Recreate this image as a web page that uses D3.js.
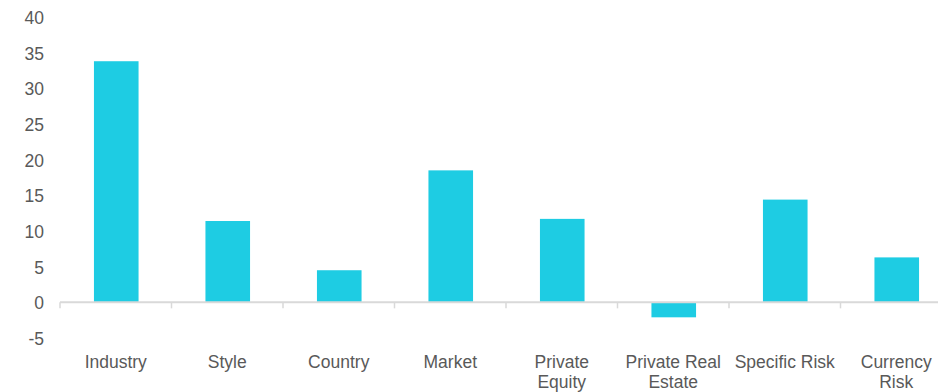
<!DOCTYPE html>
<html>
<head>
<meta charset="utf-8">
<script src="https://cdn.jsdelivr.net/npm/d3@7"></script>
<style>
  body { margin: 0; background: #fff; }
  .canvas text { font-family: "Liberation Sans", Arial, sans-serif; fill: #595959; }
</style>
</head>
<body>
<div class="canvas"></div>
<script>
const categories = ['Industry', 'Style', 'Country', 'Market', 'Private Equity', 'Private Real Estate', 'Specific Risk', 'Currency Risk'];
const labelLines = [['Industry'], ['Style'], ['Country'], ['Market'], ['Private', 'Equity'], ['Private Real', 'Estate'], ['Specific Risk'], ['Currency', 'Risk']];
const values = [33.8, 11.4, 4.5, 18.5, 11.7, -2.1, 14.4, 6.3];
const yTicks = [-5, 0, 5, 10, 15, 20, 25, 30, 35, 40];

const dims = { width: 938, height: 392 };
const plot = { left: 60, right: 952, top: 17, bottom: 338 };

const svg = d3.select('.canvas')
    .append('svg')
    .attr('width', dims.width)
    .attr('height', dims.height);

const x = d3.scaleBand()
    .domain(categories)
    .range([plot.left, plot.right])
    .padding(0);

const y = d3.scaleLinear()
    .domain([-5, 40])
    .range([plot.bottom, plot.top]);

// y tick labels, no axis line
svg.append('g')
    .selectAll('text')
    .data(yTicks)
    .enter()
    .append('text')
        .attr('x', 44)
        .attr('y', d => y(d) + 1)
        .attr('dy', '0.35em')
        .attr('text-anchor', 'end')
        .attr('font-size', 17.5)
        .text(d => d);

// bars
const bw = x.bandwidth() * 0.4;
svg.append('g')
    .selectAll('rect')
    .data(values)
    .enter()
    .append('rect')
        .attr('x', (d, i) => x(categories[i]) + (x.bandwidth() - bw) / 2 + 0.5)
        .attr('y', d => y(Math.max(0, d)))
        .attr('width', bw)
        .attr('height', d => Math.abs(y(d) - y(0)))
        .attr('fill', '#1ecce3');

// zero axis line with ticks at band edges
const axisG = svg.append('g');
axisG.append('line')
    .attr('x1', plot.left).attr('x2', dims.width)
    .attr('y1', y(0)).attr('y2', y(0))
    .attr('stroke', '#d9d9d9')
    .attr('stroke-width', 2);
axisG.selectAll('.tk')
    .data(categories)
    .enter()
    .append('line')
        .attr('class', 'tk')
        .attr('x1', d => x(d)).attr('x2', d => x(d))
        .attr('y1', y(0)).attr('y2', y(0) + 6)
        .attr('stroke', '#d9d9d9')
        .attr('stroke-width', 1.5);

// category labels
const labels = svg.append('g')
    .selectAll('text')
    .data(categories)
    .enter()
    .append('text')
        .attr('text-anchor', 'middle')
        .attr('font-size', 17.5)
        .attr('transform', d => `translate(${x(d) + x.bandwidth() / 2}, 368)`);

labels.selectAll('tspan')
    .data((d, i) => labelLines[i])
    .enter()
    .append('tspan')
        .attr('x', 0)
        .attr('y', (d, i) => i * 20)
        .text(d => d);
</script>
</body>
</html>
